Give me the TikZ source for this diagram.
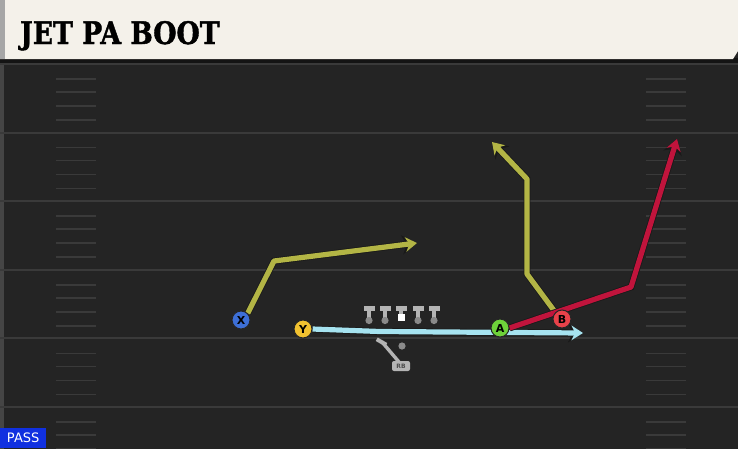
\documentclass[tikz,border=0pt]{standalone}
\usepackage{fontspec}
\setmainfont{DejaVu Serif}
\newfontfamily\titlefont[BoldFeatures={FakeBold=1.5}]{DejaVu Serif}
\newfontfamily\labelfont{DejaVu Sans}
\usetikzlibrary{arrows.meta}
\pgfdeclarelayer{players}
\pgfsetlayers{main,players}
\definecolor{fieldgray}{HTML}{242424}
\definecolor{yardline}{HTML}{3A3A3A}
\definecolor{headcream}{HTML}{F4F1EA}
\definecolor{routeolive}{HTML}{B3B545}
\definecolor{routeblue}{HTML}{A6E3F0}
\definecolor{routered}{HTML}{C0143C}
\definecolor{playerx}{HTML}{3D6FD6}
\definecolor{playery}{HTML}{F2C230}
\definecolor{playera}{HTML}{6ED23A}
\definecolor{playerb}{HTML}{E8424A}
\definecolor{passblue}{HTML}{1030E0}
\definecolor{linegray}{HTML}{B4B4B4}
\definecolor{dotgray}{HTML}{8A8A8A}
\tikzset{
  player/.style={circle,draw=black!85,line width=1pt,fill=#1,minimum size=18pt,
    inner sep=0pt,font=\labelfont\bfseries\fontsize{11}{11}\selectfont},
  route/.style={draw=#1,line width=5.2pt,line join=round,
    -{Stealth[length=0pt 2.2,width=0pt 2.8,inset=0pt 0.7]},
    preaction={draw=black!90,line width=6.8pt,
      -{Stealth[length=0pt 2.2,width=0pt 2.8,inset=0pt 0.7]}}},
}
\begin{document}
\begin{tikzpicture}[x=1pt,y=-1pt]
\useasboundingbox (0,0) rectangle (738,448);
% field
\fill[fieldgray] (-3,-3) rectangle (741,451);
\fill[fieldgray!85!white] (-3,60) rectangle (4,451);
\foreach \k in {0,...,5}{
  \draw[yardline,line width=2pt] (0,{64+68.6*\k}) -- (738,{64+68.6*\k});
  \foreach \h in {15,28,42,56}{
    \draw[yardline,line width=1.6pt] (56,{64+68.6*\k+\h}) -- (96,{64+68.6*\k+\h});
    \draw[yardline,line width=1.6pt] (646,{64+68.6*\k+\h}) -- (686,{64+68.6*\k+\h});
  }
}
% header
\fill[black!92] (0,58) rectangle (741,63);
\fill[headcream] (-3,-3) -- (741,-3) -- (738,51) -- (733,59) -- (-3,59) -- cycle;
\fill[black!35] (-3,-3) rectangle (5,59);
\node[anchor=base west,inner sep=0pt,xscale=0.86,font=\titlefont\bfseries\fontsize{31}{31}\selectfont]
  (title) at (20,44) {JET PA BOOT};
% play type
\node[anchor=south west,fill=passblue,text=white,inner sep=0pt,minimum width=46pt,
  minimum height=20pt,font=\labelfont\fontsize{13}{13}\selectfont] (play) at (0,448) {PASS};
% offensive line
\foreach \x in {369,385,401,418,434}{
  \fill[linegray] (\x-5.5,306) rectangle (\x+5.5,310.5);
  \fill[linegray] (\x-1.8,310) rectangle (\x+1.8,318);
}
\foreach \x in {369,385,418,434}
  \fill[dotgray] (\x,320.5) circle (3.6);
\fill[white] (397.5,314) rectangle (404.5,321);
% running back
\fill[linegray,rotate around={-30:(381.5,342)}] (376,340) rectangle (387,344);
\draw[linegray,line width=3.4pt] (382,342) -- (399,362);
\fill[linegray,rounded corners=2pt] (392,361) rectangle (410,371);
\node[font=\labelfont\bfseries\fontsize{6}{6}\selectfont,text=black!70,inner sep=0pt]
  (rb) at (401,366.5) {RB};
\fill[dotgray] (402,346) circle (3.6);
% players
\begin{pgfonlayer}{players}
\node[player=playerx] (X) at (241,320) {X};
\node[player=playery] (Y) at (303,329) {Y};
\node[player=playera] (A) at (500,328) {A};
\node[player=playerb] (B) at (562,319) {B};
\end{pgfonlayer}
% routes
\coordinate (xend) at (417,243);
\coordinate (yend) at (583,333);
\coordinate (bend) at (492,142);
\coordinate (aend) at (677,139);
\draw[route=routeblue] (Y.east) -- (380,331.5) -- (yend);
\draw[route=routeolive] (X.north east) -- (274,261) -- (xend);
\draw[route=routeolive] (B.north west) -- (527,274) -- (527,179) -- (bend);
\draw[route=routered] (A.east) -- (631,287) -- (aend);
\end{tikzpicture}
\end{document}
